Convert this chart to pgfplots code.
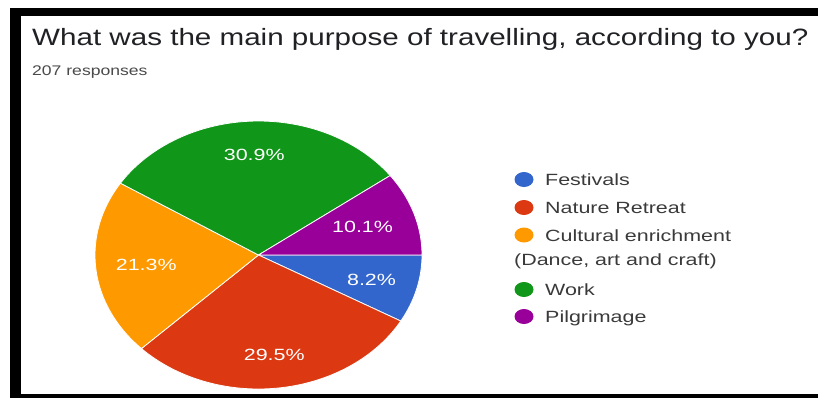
\documentclass[border=0pt]{standalone}
\usepackage{pgfplots}
\pgfplotsset{compat=1.18}
\usepackage{graphicx}
\usepackage{fontspec}
\setmainfont{Liberation Sans}
\definecolor{gblue}{HTML}{3366CC}
\definecolor{gred}{HTML}{DC3912}
\definecolor{gorange}{HTML}{FF9900}
\definecolor{ggreen}{HTML}{109618}
\definecolor{gpurple}{HTML}{990099}
\definecolor{titlec}{HTML}{202124}
\definecolor{subc}{HTML}{4A4A4A}
\definecolor{legc}{HTML}{3A3A3A}
% data (percent of 207 responses)
\newcommand\vA{8.2}  % Festivals
\newcommand\vB{29.5} % Nature Retreat
\newcommand\vC{21.3} % Cultural enrichment
\newcommand\vD{30.9} % Work
\newcommand\vE{10.1} % Pilgrimage
\newcommand\lgt[1]{\scalebox{1.32}[1]{\fontsize{16.3}{19}\selectfont #1}}
\pgfmathsetmacro\cA{0}
\pgfmathsetmacro\cB{\cA-3.6*\vA}
\pgfmathsetmacro\cC{\cB-3.6*\vB}
\pgfmathsetmacro\cD{\cC-3.6*\vC}
\pgfmathsetmacro\cE{\cD-3.6*\vD}
\pgfmathsetmacro\cF{\cE-3.6*\vE}
\pgfmathsetmacro\mA{(\cA+\cB)/2}
\pgfmathsetmacro\mB{(\cB+\cC)/2}
\pgfmathsetmacro\mC{(\cC+\cD)/2}
\pgfmathsetmacro\mD{(\cD+\cE)/2}
\pgfmathsetmacro\mE{(\cE+\cF)/2}
\begin{document}
\begin{tikzpicture}[x=1bp,y=-1bp]
\fill[white] (0,0) rectangle (818,398);
\fill[black] (10,8) rectangle (818,16);
\fill[black] (10,8) rectangle (21,398);
\fill[black] (10,394) rectangle (818,398);
\coordinate (pc) at (258.5,255);
\node[anchor=base west, inner sep=0, text=titlec] at (32,45)
  {\scalebox{1.253}[1]{\fontsize{23.7}{28}\selectfont What was the main purpose of travelling, according to you?}};
\node[anchor=base west, inner sep=0, text=subc] at (32,75.5)
  {\scalebox{1.26}[1]{\fontsize{14}{17}\selectfont 207 responses}};
\begin{axis}[at={(pc)}, anchor=origin, x=163.5bp, y=134bp,
  xmin=-1, xmax=1, ymin=-1, ymax=1, hide axis, clip=false]
\addplot[fill=gblue, draw=white, line width=0.8bp, domain=\cB:\cA, samples=40] ({cos(x)},{sin(x)}) -- (axis cs:0,0) -- cycle;
\addplot[fill=gred, draw=white, line width=0.8bp, domain=\cC:\cB, samples=80] ({cos(x)},{sin(x)}) -- (axis cs:0,0) -- cycle;
\addplot[fill=gorange, draw=white, line width=0.8bp, domain=\cD:\cC, samples=60] ({cos(x)},{sin(x)}) -- (axis cs:0,0) -- cycle;
\addplot[fill=ggreen, draw=white, line width=0.8bp, domain=\cE:\cD, samples=80] ({cos(x)},{sin(x)}) -- (axis cs:0,0) -- cycle;
\addplot[fill=gpurple, draw=white, line width=0.8bp, domain=\cF:\cE, samples=40] ({cos(x)},{sin(x)}) -- (axis cs:0,0) -- cycle;
\node[text=white, inner sep=0] at (axis cs:{0.715*cos(\mA)},{0.715*sin(\mA)}) {\lgt{\vA\%}};
\node[text=white, inner sep=0] at (axis cs:{0.75*cos(\mB)},{0.75*sin(\mB)}) {\lgt{\vB\%}};
\node[text=white, inner sep=0] at (axis cs:{0.69*cos(\mC)},{0.69*sin(\mC)}) {\lgt{\vC\%}};
\node[text=white, inner sep=0] at (axis cs:{0.75*cos(\mD)},{0.75*sin(\mD)}) {\lgt{\vD\%}};
\node[text=white, inner sep=0] at (axis cs:{0.67*cos(\mE)},{0.67*sin(\mE)}) {\lgt{\vE\%}};
\end{axis}
% legend
\fill[gblue]   (524,179.5) ellipse [x radius=9.5bp, y radius=7.5bp];
\fill[gred]    (524,207.5) ellipse [x radius=9.5bp, y radius=7.5bp];
\fill[gorange] (524,235)   ellipse [x radius=9.5bp, y radius=7.5bp];
\fill[ggreen]  (524,289.5) ellipse [x radius=9.5bp, y radius=7.5bp];
\fill[gpurple] (524,316.5) ellipse [x radius=9.5bp, y radius=7.5bp];
\node[anchor=base west, inner sep=0, text=legc] at (545,185.5) {\lgt{Festivals}};
\node[anchor=base west, inner sep=0, text=legc] at (545,213.5) {\lgt{Nature Retreat}};
\node[anchor=base west, inner sep=0, text=legc] at (545,241) {\lgt{Cultural enrichment}};
\node[anchor=base west, inner sep=0, text=legc] at (514,265) {\lgt{(Dance, art and craft)}};
\node[anchor=base west, inner sep=0, text=legc] at (545,295.5) {\lgt{Work}};
\node[anchor=base west, inner sep=0, text=legc] at (545,322.5) {\lgt{Pilgrimage}};
\pgfresetboundingbox
\path[use as bounding box] (0,0) rectangle (818,398);
\end{tikzpicture}%
\end{document}
